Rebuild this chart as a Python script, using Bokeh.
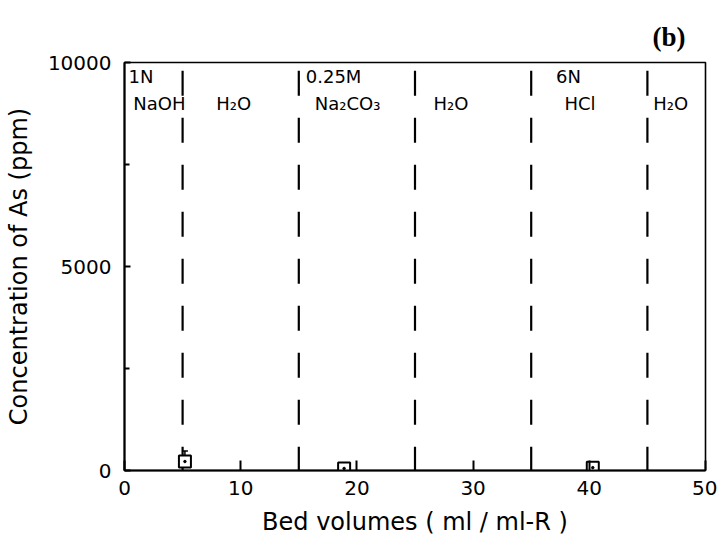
from bokeh.plotting import figure
from bokeh.models import ColumnDataSource, FixedTicker
from bokeh.core.properties import value
from bokeh.embed import file_html
from bokeh.resources import INLINE

# Measured arsenic concentration in the eluate
bed_volumes = [5.2, 18.9, 40.3]
as_conc = [220, 50, 70]
as_err_up = [260, 0, 0]

# Boundaries between eluent steps (bed volumes)
step_bounds = [5, 15, 25, 35, 45]

# Eluent step labels: (text, x, row, alignment)
step_text = ["1N", "NaOH", "H\u2082O", "0.25M", "Na\u2082CO\u2083", "H\u2082O", "6N", "HCl", "H\u2082O"]
step_x = [0.35, 0.75, 9.4, 15.6, 19.2, 28.1, 38.2, 39.2, 47.0]
step_y = [9660, 8990, 8990, 9660, 8990, 8990, 9660, 8990, 8990]
step_align = ["left", "left", "center", "left", "center", "center", "center", "center", "center"]

x_ticks = [0, 10, 20, 30, 40, 50]
y_ticks = [0, 5000, 10000]
y_minor = [2500, 7500]

FONT = "DejaVu Sans"

p = figure(width=717, height=541, x_range=(0, 50), y_range=(0, 10000),
           output_backend="svg", toolbar_location=None,
           min_border_left=124, min_border_right=12,
           min_border_top=62, min_border_bottom=71)
p.background_fill_color = "white"
p.border_fill_color = "white"
p.outline_line_color = "black"
p.outline_line_width = 1.6
p.xgrid.visible = False
p.ygrid.visible = False

# Panel tag as the figure title, placed top right
p.title.text = "(b)"
p.title.align = "right"
p.title.offset = 20
p.title.standoff = 22
p.title.text_font = "Liberation Serif"
p.title.text_font_style = "bold"
p.title.text_font_size = "27px"
p.title.text_color = "black"

# Axes
p.xaxis.ticker = FixedTicker(ticks=x_ticks)
p.yaxis.ticker = FixedTicker(ticks=y_ticks, minor_ticks=y_minor)
for ax in (p.xaxis[0], p.yaxis[0]):
    ax.axis_line_color = "black"
    ax.axis_line_width = 2
    ax.major_tick_line_color = "black"
    ax.major_tick_line_width = 2
    ax.minor_tick_line_color = "black"
    ax.minor_tick_line_width = 2
    ax.major_tick_out = 0
    ax.minor_tick_out = 0
    ax.major_label_text_font = FONT
    ax.major_label_text_color = "black"
    ax.axis_label_text_font = FONT
    ax.axis_label_text_font_style = "normal"
    ax.axis_label_text_color = "black"

p.xaxis.major_tick_in = 10
p.yaxis.major_tick_in = 6
p.yaxis.minor_tick_in = 5
p.xaxis.major_label_text_font_size = "20px"
p.yaxis.major_label_text_font_size = "20px"
p.xaxis.major_label_standoff = 10
p.yaxis.major_label_standoff = 13
p.xaxis.axis_label = "Bed volumes ( ml / ml-R )"
p.yaxis.axis_label = "Concentration of As (ppm)"
p.xaxis.axis_label_text_font_size = "24px"
p.yaxis.axis_label_text_font_size = "24px"
p.xaxis.axis_label_standoff = 10
p.yaxis.axis_label_standoff = 12

# Dashed separators between eluent steps
p.segment(x0=step_bounds, x1=step_bounds, y0=[9800] * len(step_bounds),
          y1=[0] * len(step_bounds), line_color="black", line_width=2.2,
          line_dash="25 22")

# Step labels
lbl = ColumnDataSource(dict(x=step_x, y=step_y, t=step_text, a=step_align))
p.text(x="x", y="y", text="t", text_align="a", text_baseline="middle",
       source=lbl, text_font=value(FONT), text_font_size="18px",
       text_color="black")

# Data points with upper error bar
up = [v + e for v, e in zip(as_conc, as_err_up)]
src = ColumnDataSource(dict(x=bed_volumes, y=as_conc, up=up))
p.segment(x0="x", x1="x", y0="y", y1="up", source=src,
          line_color="black", line_width=1.5)
p.scatter(x="x", y="up", source=src, marker="dash", size=6,
          line_color="black", line_width=1.5)
p.scatter(x="x", y="y", source=src, marker="square", size=12,
          fill_color="white", line_color="black", line_width=2)
p.scatter(x="x", y="y", source=src, marker="circle", size=2.5,
          fill_color="black", line_color="black")

open("out.html", "w").write(file_html(p, INLINE))
